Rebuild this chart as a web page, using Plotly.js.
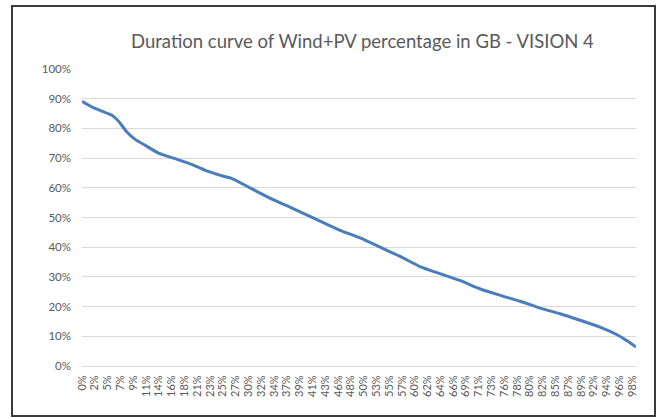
<!DOCTYPE html>
<html>
<head>
<meta charset="utf-8">
<script src="https://cdn.plot.ly/plotly-3.0.1.min.js"></script>
<style>
  html, body { margin: 0; padding: 0; background: #ffffff; }
  #wrap { position: relative; width: 659px; height: 418px; }
  #chart { position: absolute; left: 0; top: 0; width: 659px; height: 418px; }
  #frame { position: absolute; left: 11px; top: 5px; width: 641px; height: 408px;
           border: 2px solid #3a3a3a; pointer-events: none; }
</style>
</head>
<body>
<div id="wrap">
  <div id="chart"></div>
  <div id="frame"></div>
</div>
<script>
// Share of the year (%) -- x, and Wind+PV percentage (%) -- y
const durationPct = [0, 1.8, 3.6, 5.4, 6.6, 8.1, 9.6, 11.4, 13.8, 16.8, 19.8, 22.8, 25.5, 27.0, 30.3, 34.5, 38.1, 42.4, 46.6, 50.2, 54.4, 57.4, 61.0, 64.6, 68.2, 71.8, 75.5, 79.1, 82.7, 86.3, 89.9, 93.5, 96.5, 98.3, 100];
const windPvPct   = [89.1, 87.2, 85.8, 84.4, 82.4, 78.8, 76.3, 74.3, 71.7, 69.8, 67.9, 65.5, 63.9, 63.2, 60.0, 56.0, 53.0, 49.3, 45.7, 43.1, 39.5, 36.9, 33.5, 31.1, 28.8, 26.0, 23.8, 21.8, 19.5, 17.6, 15.4, 13.1, 10.6, 8.6, 6.4];

// Category tick labels shown along the x axis
const xTickLabels = ["0%","2%","5%","7%","9%","11%","14%","16%","18%","21%","23%","25%","27%","30%","32%","34%","37%","39%","41%","43%","46%","48%","50%","53%","55%","57%","60%","62%","64%","66%","69%","71%","73%","76%","78%","80%","82%","85%","87%","89%","92%","94%","96%","98%"];
const yTickValues = [0, 10, 20, 30, 40, 50, 60, 70, 80, 90, 100];
const yTickLabels = ["0%","10%","20%","30%","40%","50%","60%","70%","80%","90%","100%"];

const chartTitle = "Duration curve of Wind+PV percentage in GB - VISION 4";

const labelStep = 2.31;
const xTickVals = xTickLabels.map((_, i) => i * labelStep);

const trace = {
  x: durationPct,
  y: windPvPct,
  type: "scatter",
  mode: "lines",
  line: { color: "#4a7ebb", width: 3, shape: "spline", smoothing: 0.6 },
  hoverinfo: "skip"
};

const layout = {
  width: 659,
  height: 418,
  paper_bgcolor: "#ffffff",
  plot_bgcolor: "#ffffff",
  margin: { l: 82, r: 23, t: 69, b: 52 },
  showlegend: false,
  font: { family: "Lato, 'Open Sans', sans-serif", color: "#595959", size: 11 },
  title: {
    text: chartTitle,
    font: { family: "Lato, 'Open Sans', sans-serif", size: 18.5, color: "#595959" },
    x: 0.55, xref: "container", xanchor: "center",
    y: 0.9, yref: "container", yanchor: "middle"
  },
  xaxis: {
    range: [0, 100],
    tickmode: "array",
    tickvals: xTickVals,
    ticktext: xTickLabels,
    tickangle: -90,
    tickfont: { size: 11, color: "#595959" },
    showgrid: false,
    zeroline: false,
    showline: true,
    linecolor: "#d9d9d9",
    linewidth: 1,
    ticks: "",
    ticklabelstandoff: 4,
    fixedrange: true
  },
  yaxis: {
    range: [0, 100],
    tickmode: "array",
    tickvals: yTickValues,
    ticktext: yTickLabels,
    tickfont: { size: 11.5, color: "#595959" },
    showgrid: true,
    gridcolor: "#d9d9d9",
    gridwidth: 1,
    zeroline: false,
    showline: false,
    ticks: "",
    ticklabelstandoff: 10,
    fixedrange: true
  }
};

Plotly.newPlot("chart", [trace], layout, { displayModeBar: false, staticPlot: true });
</script>
</body>
</html>
